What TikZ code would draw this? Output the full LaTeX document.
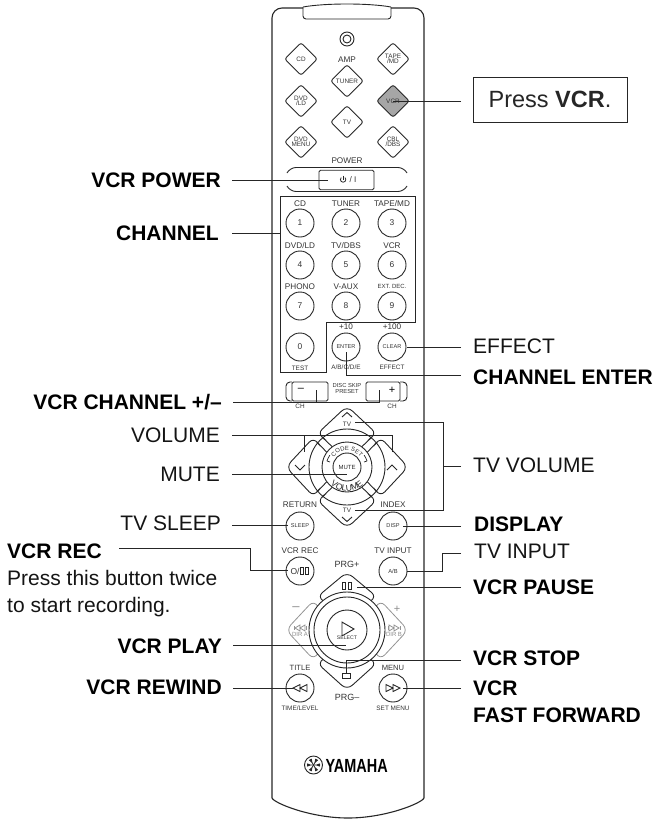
\documentclass[tikz,border=0pt]{standalone}
\usepackage{fontspec}
\setmainfont{Liberation Sans}
\usetikzlibrary{shapes.geometric,decorations.text}
\newcommand{\fs}[1]{\fontsize{#1}{#1}\selectfont}
\tikzset{
  lbl/.style={inner sep=0,font=\fs{21},text=black!92},
  lblb/.style={inner sep=0,font=\fs{21}\bfseries,text=black},
  lead/.style={line width=1pt,black!85},
  part/.style={line width=.9pt,black!85},
  soft/.style={line width=.8pt,black!42},
  small/.style={inner sep=0,font=\fs{8.2},text=black!80,align=center},
  tiny/.style={inner sep=0,font=\fs{6.4},text=black!80,align=center},
  softtxt/.style={inner sep=0,font=\fs{6.2},text=black!45,align=center},
  btn/.style={circle,draw,part,minimum size=28pt,inner sep=0,font=\fs{8.4},text=black!80},
  dia/.style={diamond,draw,part,aspect=1,minimum size=33pt,inner sep=0,rounded corners=2.5pt},
}
\newcommand{\dm}[5][]{\node[dia,#1] (#2) at (#3,#4) {}; \node[tiny] (#2t) at (#3,#4) {#5};}
\begin{document}
\begin{tikzpicture}[x=1pt,y=-1pt]
\useasboundingbox (0,0) rectangle (657,819);
% body
\draw[part,line width=1.1pt,rounded corners=10pt] (303,8) -- (272,8) -- (272,798);
\draw[part,line width=1.1pt,rounded corners=10pt] (391,8) -- (424,8) -- (424,798);
\draw[part,line width=1.1pt] (272,798) .. controls (274,803) and (310,818) .. (348,818) .. controls (386,818) and (422,803) .. (424,798);
\draw[part,rounded corners=3pt] (303,7) -- (303,19) -- (391,19) -- (391,7);
\draw[part] (303,7) .. controls (325,3) and (369,3) .. (391,7);
\node[circle,draw,part,minimum size=14pt,inner sep=0] (jack) at (347,39) {};
\node[circle,draw,part,minimum size=8pt,inner sep=0] (jackin) at (347,39) {};
% input diamonds
\dm{dcd}{301}{59}{CD}
\dm{dtape}{393}{59}{TAPE\\[-1pt]/MD}
\dm{dtuner}{347}{81}{TUNER}
\dm{ddvd}{301}{101}{DVD\\[-1pt]/LD}
\dm[fill=black!35]{dvcr}{393}{101}{VCR}
\dm{dtv}{347}{122}{TV}
\dm{dmenu}{301}{142}{DVD\\[-1pt]MENU}
\dm{dcbl}{393}{142}{CBL\\[-1pt]/DBS}
\node[small] (amp) at (347,60) {AMP};
\node[small] (power) at (347,161) {POWER};
% power
\draw[part,rounded corners=6pt] (287,173) -- (290,167.5) -- (404,167.5) -- (407,173);
\draw[part,rounded corners=6pt] (287,186) -- (290,191.5) -- (404,191.5) -- (407,186);
\node[draw,part,fill=white,rounded corners=1.5pt,minimum width=55pt,minimum height=19.5pt,inner sep=0] (pwr) at (346.5,180) {};
\draw[part,line width=.8pt] (341.2,177.6) arc[start angle=135,end angle=405,radius=2.7pt];
\draw[part,line width=.8pt] (343.1,175.6) -- (343.1,179.5);
\node[small] (pwrt) at (353,180) {/ I};
% channel panel
\draw[part,line width=1pt] (280,196) -- (415,196) -- (415,322) -- (326,322) -- (326,372) -- (280,372) -- cycle;
\foreach \n/\x/\y/\t/\lab in {b1/300/223/1/CD,b2/346/223/2/TUNER,b3/392/223/3/{TAPE/MD},
  b4/300/265/4/{DVD/LD},b5/346/265/5/{TV/DBS},b6/392/265/6/VCR,
  b7/300/306/7/PHONO,b8/346/306/8/V-AUX,b9/392/306/9/{\fs{6}EXT. DEC.}}{
  \node[btn] (\n) at (\x,\y) {\t};
  \node[small] (\n t) at (\x,\y-19.5) {\lab};
}
\node[btn] (b0) at (300,347) {0};
\node[btn,font=\fs{5.6}] (benter) at (346,347) {ENTER};
\node[btn,font=\fs{5.6}] (bclear) at (392,347) {CLEAR};
\node[tiny] (ttest) at (300,368) {TEST};
\node[small] (tp10) at (346,327) {+10};
\node[small] (tp100) at (392,327) {+100};
\node[tiny] (tabc) at (346,367.5) {A/B/C/D/E};
\node[tiny] (teff) at (392,367.5) {EFFECT};
% disc skip
\draw[part,rounded corners=4pt] (292,382) -- (286,382) -- (286,401) -- (292,401);
\draw[part,rounded corners=4pt] (400,382) -- (407,382) -- (407,401) -- (400,401);
\node[draw,part,fill=white,rounded corners=1.5pt,minimum width=36pt,minimum height=19pt,inner sep=0,font=\fs{12}] (chm) at (310,391.5) {};
\node[draw,part,fill=white,rounded corners=1.5pt,minimum width=34pt,minimum height=19pt,inner sep=0] (chp) at (383,391.5) {};
\node[inner sep=0,font=\fs{11}] (chmt) at (301,390) {--};
\node[inner sep=0,font=\fs{11}] (chpt) at (392,390) {+};
\node[tiny,font=\fs{5.8}] (disc) at (347,388.5) {DISC SKIP\\[-.5pt]PRESET};
\node[tiny] (ch1) at (300,406) {CH};
\node[tiny] (ch2) at (392,406) {CH};
% volume pad
\begin{scope}[shift={(347,467)}]
  \draw[part,rounded corners=7pt] (-25,-30) -- (-30,-33) -- (0,-61) -- (30,-33) -- (25,-30);
  \draw[part,rounded corners=7pt] (-25,30) -- (-30,33) -- (0,61) -- (30,33) -- (25,30);
  \draw[part,rounded corners=7pt] (-30,-25) -- (-33,-30) -- (-61,0) -- (-33,30) -- (-30,25);
  \draw[part,rounded corners=7pt] (30,-25) -- (33,-30) -- (61,0) -- (33,30) -- (30,25);
  \node[circle,draw,part,minimum size=76pt,inner sep=0] (vring) at (0,0) {};
  \node[circle,draw,part,minimum size=50pt,inner sep=0] (vin) at (0,0) {};
  \node[circle,draw,part,minimum size=28pt,inner sep=0,font=\fs{6}] (mute) at (0,0) {MUTE};
  \foreach \sx/\sy in {1/1,1/-1,-1/1,-1/-1}{
    \draw[part] (\sx*15,\sy*20.5) -- (\sx*25,\sy*30);
    \draw[part] (\sx*20.5,\sy*15) -- (\sx*30,\sy*25);
  }
  \draw[part] (-5,-50) -- (0,-54.5) -- (5,-50);
  \draw[part] (-5,50) -- (0,54.5) -- (5,50);
  \draw[part] (-52,-2) -- (-47,3) -- (-42,-2);
  \draw[part] (40,3) -- (45,-2) -- (50,3);
  \node[tiny] (tvu) at (0,-43) {TV};
  \node[tiny] (tvd) at (0,43) {TV};
  \path[postaction={decorate,decoration={text along path,text align=center,text={|\fs{6}\color{black!80}|CODE SET}}}]
    (-14.3,-8.25) arc[start angle=150,end angle=30,radius=16.5pt];
  \path[postaction={decorate,decoration={text along path,text align=center,text={|\fs{8.6}\color{black!85}|VOLUME}}}]
    (-19.66,13.77) arc[start angle=215,end angle=325,radius=24pt];
  \draw[part,line width=.7pt] (-20,-6) arc[start angle=163,end angle=145,radius=21pt] ;
  \draw[part,line width=.7pt] (20,-6) arc[start angle=17,end angle=35,radius=21pt];
  \draw[part,line width=.7pt] (-20,-6) -- (-17,-5);
  \draw[part,line width=.7pt] (20,-6) -- (17,-5);
\end{scope}
% mid buttons
\node[small] (tret) at (300,505) {RETURN};
\node[small] (tidx) at (393,505) {INDEX};
\node[btn,font=\fs{5.6}] (bsleep) at (300,526) {SLEEP};
\node[btn,font=\fs{5.6}] (bdisp) at (393,526) {DISP};
\node[small] (trec) at (300,551) {VCR REC};
\node[small] (tinp) at (393,551) {TV INPUT};
\node[btn] (brec) at (300,571) {};
\node[btn,font=\fs{5.8}] (binp) at (393,571) {A/B};
\node[tiny,font=\fs{8.5}] (brect) at (295,571) {O/};
\draw[part,line width=1pt] (300.5,567.5) rectangle (303.5,574.5) (305,567.5) rectangle (308,574.5);
\node[small,font=\fs{9}] (tprgp) at (347,564) {PRG+};
\node[small,font=\fs{9}] (tprgm) at (347,697) {PRG--};
% play pad
\begin{scope}[shift={(347,630)}]
  \draw[part,rounded corners=7pt] (-25,-30) -- (-30,-33) -- (0,-58) -- (30,-33) -- (25,-30);
  \draw[part,rounded corners=7pt] (-25,30) -- (-30,33) -- (0,60) -- (30,33) -- (25,30);
  \draw[soft,rounded corners=7pt] (-30,-25) -- (-33,-30) -- (-61,0) -- (-33,30) -- (-30,25);
  \draw[soft,rounded corners=7pt] (30,-25) -- (33,-30) -- (61,0) -- (33,30) -- (30,25);
  \node[circle,draw,part,fill=white,minimum size=76pt,inner sep=0] (pring) at (0,0) {};
  \node[circle,draw,part,minimum size=66pt,inner sep=0] (pmid) at (0,0) {};
  \node[circle,draw,part,minimum size=40pt,inner sep=0] (psel) at (0,0) {};
  \node[inner sep=0,regular polygon,regular polygon sides=3,shape border rotate=-90,draw,part,minimum size=16pt] (ptri) at (-1,-1) {};
  \node[inner sep=0,font=\fs{5.2},text=black!80] (tsel) at (0,8) {SELECT};
  \node[softtxt,font=\fs{6}] (tdira) at (-47,4) {DIR A};
  \node[softtxt,font=\fs{6}] (tdirb) at (47,4) {DIR B};
  \node[inner sep=0,font=\fs{13},text=black!45] (tm) at (-51,-21) {--};
  \node[inner sep=0,font=\fs{11},text=black!45] (tpl) at (50,-21) {+};
  \draw[soft] (-53,-4) -- (-53,0) (-41,-4) -- (-41,0);
  \draw[soft] (-52,-2) -- (-47,-5) -- (-47,1) -- cycle (-47,-2) -- (-42,-5) -- (-42,1) -- cycle;
  \draw[soft] (53,-4) -- (53,0) (41,-4) -- (41,0);
  \draw[soft] (42,-5) -- (47,-2) -- (42,1) -- cycle (47,-5) -- (52,-2) -- (47,1) -- cycle;
\end{scope}
\draw[part,line width=1pt] (342.5,582) rectangle (345.5,589) (348,582) rectangle (351,589);
\node[draw,part,minimum width=8pt,minimum height=5.5pt,inner sep=0] (stopb) at (346.5,676) {};
% bottom buttons
\node[tiny,font=\fs{7.6}] (ttitle) at (300,668) {TITLE};
\node[tiny,font=\fs{7.6}] (tmenu) at (393,668) {MENU};
\node[btn] (brew) at (300,688) {};
\node[btn] (bff) at (393,688) {};
\draw[part] (293,688) -- (300,684.5) -- (300,691.5) -- cycle (300,688) -- (307,684.5) -- (307,691.5) -- cycle;
\draw[part] (386,684.5) -- (393,688) -- (386,691.5) -- cycle (393,684.5) -- (400,688) -- (393,691.5) -- cycle;
\node[tiny] (ttime) at (300,708) {TIME/LEVEL};
\node[tiny] (tset) at (393,708) {SET MENU};
% logo
\node[circle,draw,part,minimum size=18pt,inner sep=0] (logo) at (313.5,765) {};
\foreach \a in {0,60,120}{
  \draw[line width=.8pt,black!85,shift={(313.5,765)},rotate=\a] (-6.5,0) -- (6.5,0) (-6.5,-1.2) -- (-3,0) (-6.5,1.2) -- (-3,0) (6.5,-1.2) -- (3,0) (6.5,1.2) -- (3,0);
}
\node[inner sep=0,font=\fs{19}\bfseries,xscale=.76,anchor=base west] (yamaha) at (325.5,772) {YAMAHA};
% labels, left
\node[lblb,anchor=base east] (lpower) at (221,187) {VCR POWER};
\node[lblb,anchor=base east] (lchan) at (219,240) {CHANNEL};
\node[lblb,anchor=base east] (lchpm) at (222,409) {VCR CHANNEL +/--};
\node[lbl,anchor=base east] (lvol) at (220,442) {VOLUME};
\node[lbl,anchor=base east] (lmute) at (220,481) {MUTE};
\node[lbl,anchor=base east] (lsleep) at (221,530) {TV SLEEP};
\node[lblb,anchor=base west] (lrec) at (7,558) {VCR REC};
\node[lbl,anchor=base west] (lrec2) at (7,585) {Press this button twice};
\node[lbl,anchor=base west] (lrec3) at (7,612) {to start recording.};
\node[lblb,anchor=base east] (lplay) at (222,653) {VCR PLAY};
\node[lblb,anchor=base east] (lrew) at (222,694) {VCR REWIND};
% labels, right
\node[draw,part,minimum width=154pt,minimum height=45pt,inner sep=0,font=\fs{23.5}] (press) at (550,99.5) {Press \textbf{VCR}.};
\node[lbl,anchor=base west] (leff) at (473,353) {EFFECT};
\node[lblb,anchor=base west] (lent) at (473,384) {CHANNEL ENTER};
\node[lbl,anchor=base west] (ltvv) at (473,472) {TV VOLUME};
\node[lblb,anchor=base west] (ldisp) at (474,531) {DISPLAY};
\node[lbl,anchor=base west] (linp) at (474,558) {TV INPUT};
\node[lblb,anchor=base west] (lpau) at (473,594) {VCR PAUSE};
\node[lblb,anchor=base west] (lstop) at (473,665) {VCR STOP};
\node[lblb,anchor=base west] (lff) at (473,695) {VCR};
\node[lblb,anchor=base west] (lff2) at (473,722) {FAST FORWARD};
% connector ends
\foreach \n/\x/\y in {
 cpress/461/101, cvcr/393/101,
 cpw/232/180, cpwe/328/180,
 cch/232/233, cche/280/233,
 ceff/461/347, ceffe/407/347,
 cent/461/375, cente/346/375, cent2/346/352,
 ccp/233/402, ccpa/316/402, ccpb/379/402, ccpa2/316/390, ccpb2/379/390,
 cvo/232/435, cvoa/304/435, cvob/392/435, cvoa2/304/452, cvob2/392/452,
 cmu/232/474, cmue/347/474,
 ctv/461/466, ctvm/443/466, ctvt/443/422, ctvb/443/510, ctvu/355/422, ctvd/355/510,
 csl/232/525, csle/288/525,
 cdi/461/526, cdie/403/526,
 cre/119/548, crea/250/548, creb/250/570, crec/288/570,
 cin/461/553, cina/442/553, cinb/442/571, cine/407/571,
 cpa/461/587, cpae/357/587,
 cpl/233/645, cple/346/645,
 cst/461/660, csta/346/660, cste/346/673,
 crw/233/688, crwe/293/688,
 cfw/461/688, cfwe/403/688}{\coordinate (\n) at (\x,\y);}
\begin{scope}[lead]
\draw (cpress) -- (cvcr);
\draw (cpw) -- (cpwe);
\draw (cch) -- (cche);
\draw (ceff) -- (ceffe);
\draw (cent) -- (cente) -- (cent2);
\draw (ccp) -- (ccpb) -- (ccpb2);
\draw (ccpa) -- (ccpa2);
\draw (cvo) -- (cvob) -- (cvob2);
\draw (cvoa) -- (cvoa2);
\draw (cmu) -- (cmue);
\draw (ctv) -- (ctvm);
\draw (ctvu) -- (ctvt) -- (ctvb) -- (ctvd);
\draw (csl) -- (csle);
\draw (cdi) -- (cdie);
\draw (cre) -- (crea) -- (creb) -- (crec);
\draw (cin) -- (cina) -- (cinb) -- (cine);
\draw (cpa) -- (cpae);
\draw (cpl) -- (cple);
\draw (cst) -- (csta) -- (cste);
\draw (crw) -- (crwe);
\draw (cfw) -- (cfwe);
\end{scope}
\end{tikzpicture}
\end{document}
